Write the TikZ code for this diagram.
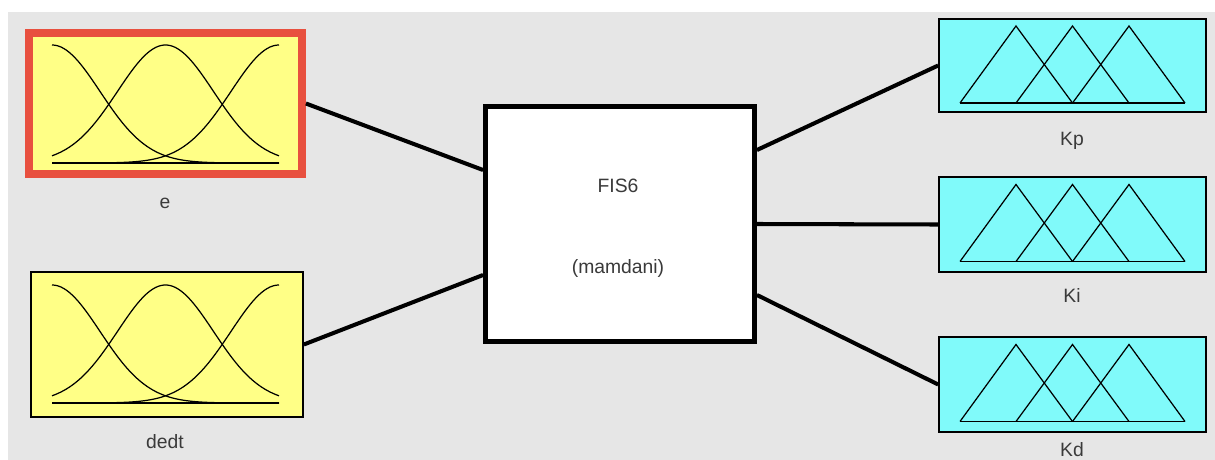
\documentclass[tikz,border=0pt]{standalone}
\usepackage{fontspec}
\setmainfont{Liberation Sans}
\definecolor{bggray}{HTML}{E6E6E6}
\definecolor{inyellow}{HTML}{FFFF86}
\definecolor{outcyan}{HTML}{80FAFA}
\definecolor{selred}{HTML}{E8503F}
\definecolor{labelgray}{HTML}{3A3A3A}
\tikzset{
  mfbox/.style={draw=black, line width=1pt, inner sep=0pt, rectangle},
  inbox/.style={mfbox, fill=inyellow, minimum width=5.44cm, minimum height=2.9cm},
  selbox/.style={inbox, draw=selred, line width=4.5pt, minimum width=5.46cm, minimum height=2.82cm},
  outbox/.style={mfbox, fill=outcyan, minimum width=5.34cm},
  fisbox/.style={draw=black, line width=2.8pt, fill=white, inner sep=0pt, minimum width=5.38cm, minimum height=4.7cm},
  lbl/.style={text=labelgray, font=\fontsize{11}{13}\selectfont, anchor=base, inner sep=0pt},
  link/.style={line width=2.3pt, black},
  mfcurve/.style={line width=0.7pt, black},
}
\newcommand{\gaussset}{%
  \draw[mfcurve] (52,163) -- (279,163);
  \draw[mfcurve] plot[domain=52:279, samples=80, smooth] (\x, {163-118*exp(-0.5*((\x-52)/48)^2)});
  \draw[mfcurve] plot[domain=52:279, samples=80, smooth] (\x, {163-118*exp(-0.5*((\x-165.5)/48)^2)});
  \draw[mfcurve] plot[domain=52:279, samples=80, smooth] (\x, {163-118*exp(-0.5*((\x-279)/48)^2)});
}
\newcommand{\triset}{%
  \draw[mfcurve] (960,103) -- (1185,103);
  \draw[mfcurve] (960,103) -- (1016,26) -- (1072.5,103);
  \draw[mfcurve] (1016,103) -- (1072.5,26) -- (1129,103);
  \draw[mfcurve] (1072.5,103) -- (1129,26) -- (1185,103);
}
\begin{document}
\begin{tikzpicture}[x=0.02cm, y=-0.02cm]
\useasboundingbox (0,0) rectangle (1215,460);
\clip (0,0) rectangle (1215,460);
\fill[white] (0,0) rectangle (1215,460);
\fill[bggray] (8,12) rectangle (1215,460);

% input boxes
\node[selbox] (e) at (165.5,103.5) {};
\node[inbox] (dedt) at (167,344.5) {};
\gaussset
\begin{scope}[shift={(0,240)}]
  \gaussset
\end{scope}
\node[lbl] (elbl) at (165,208) {e};
\node[lbl] (dedtlbl) at (165,448) {dedt};

% FIS box
\node[fisbox] (fis) at (620,224) {};
\node[lbl] (fisname) at (618,192) {FIS6};
\node[lbl] (fistype) at (618,273) {(mamdani)};

% output boxes
\node[outbox, minimum height=1.86cm] (kp) at (1072.5,65.5) {};
\node[outbox, minimum height=1.9cm] (ki) at (1072.5,224.5) {};
\node[outbox, minimum height=1.9cm] (kd) at (1072.5,384.5) {};
\triset
\begin{scope}[shift={(0,158.5)}]
  \triset
\end{scope}
\begin{scope}[shift={(0,318.5)}]
  \triset
\end{scope}
\node[lbl] (kplbl) at (1072,145) {Kp};
\node[lbl] (kilbl) at (1072,302) {Ki};
\node[lbl] (kdlbl) at (1072,456) {Kd};

% connectors
\draw[link] (e.east) -- ([yshift=1.08cm]fis.west);
\draw[link] (dedt.east) -- ([yshift=-1.02cm]fis.west);
\draw[link] ([yshift=1.48cm]fis.east) -- (kp.west);
\draw[link] (fis.east) -- (ki.west);
\draw[link] ([yshift=-1.42cm]fis.east) -- (kd.west);
\end{tikzpicture}
\end{document}
